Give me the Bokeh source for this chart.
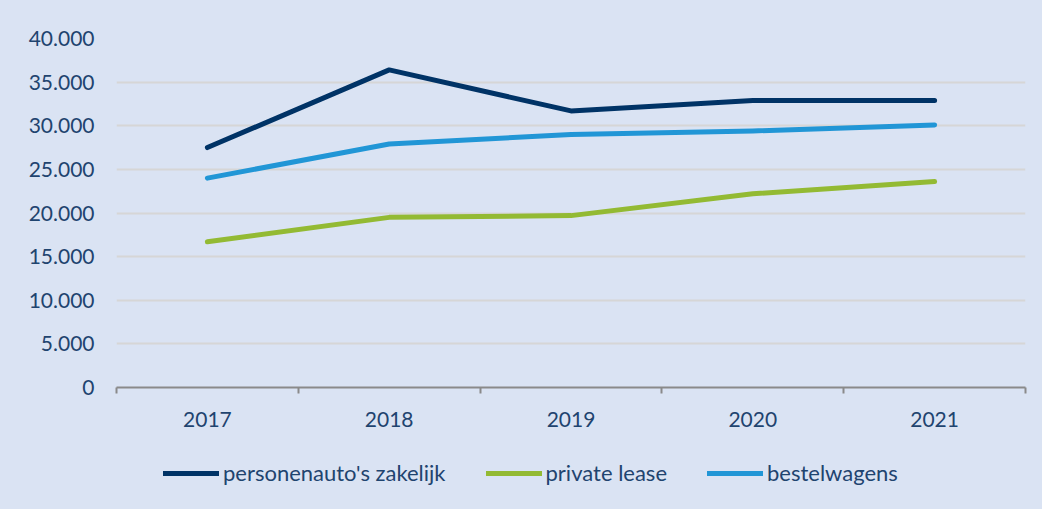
from bokeh.plotting import figure
from bokeh.layouts import column
from bokeh.models import Range1d, FixedTicker, Legend, LegendItem
from bokeh.embed import file_html
from bokeh.resources import INLINE

years = ["2017", "2018", "2019", "2020", "2021"]
zakelijk = [27500, 36400, 31700, 32900, 32900]
private_lease = [16700, 19500, 19700, 22200, 23600]
bestelwagens = [24000, 27900, 29000, 29400, 30100]
series_names = ["personenauto's zakelijk", "private lease", "bestelwagens"]
y_ticks = [0, 5000, 10000, 15000, 20000, 25000, 30000, 35000, 40000]
y_tick_labels = ["0", "5.000", "10.000", "15.000", "20.000", "25.000", "30.000", "35.000", "40.000"]

BG = "#dae3f3"
TXT = "#1f446f"
FONT = "Lato"
colors = ["#003366", "#93ba33", "#2196d6"]
series = [zakelijk, private_lease, bestelwagens]

xs = list(range(len(years)))

p = figure(width=1042, height=445, output_backend="svg", toolbar_location=None,
           x_range=Range1d(-0.5, len(years) - 0.5), y_range=Range1d(0, 40000),
           min_border_left=116, min_border_right=17, min_border_top=38, min_border_bottom=58)
p.background_fill_alpha = 0
p.border_fill_color = BG
p.outline_line_color = None

for vals, col in zip(series, colors):
    p.line(xs, vals, line_color=col, line_width=5, line_cap="round", line_join="round")

# x axis
xa = p.xaxis[0]
xa.ticker = FixedTicker(ticks=xs, minor_ticks=[i - 0.5 for i in range(len(years) + 1)])
xa.major_label_overrides = {i: y for i, y in zip(xs, years)}
xa.major_tick_out = 0
xa.major_tick_in = 0
xa.minor_tick_out = 6
xa.minor_tick_in = 0
xa.minor_tick_line_color = "#8a8a8a"
xa.minor_tick_line_width = 2
xa.axis_line_color = "#8a8a8a"
xa.axis_line_width = 2
xa.major_label_standoff = 18
xa.major_label_text_font = FONT
xa.major_label_text_font_size = "21px"
xa.major_label_text_color = TXT

# y axis
ya = p.yaxis[0]
ya.ticker = FixedTicker(ticks=y_ticks)
ya.major_label_overrides = {t: l for t, l in zip(y_ticks, y_tick_labels)}
ya.axis_line_color = None
ya.major_tick_line_color = None
ya.minor_tick_line_color = None
ya.major_tick_out = 0
ya.major_label_standoff = 22
ya.major_label_text_font = FONT
ya.major_label_text_font_size = "21px"
ya.major_label_text_color = TXT

p.xgrid.grid_line_color = None
p.ygrid.grid_line_color = "#d6d6d6"
p.ygrid.grid_line_width = 2

# legend strip below the chart (its lines lie outside its visible range)
q = figure(width=1042, height=64, output_backend="svg", toolbar_location=None,
           x_range=Range1d(-0.5, len(years) - 0.5), y_range=Range1d(100000, 200000),
           x_axis_location=None, y_axis_location=None,
           min_border_left=0, min_border_right=0, min_border_top=0, min_border_bottom=0)
q.background_fill_alpha = 0
q.border_fill_color = BG
q.outline_line_color = None
q.grid.grid_line_color = None
leg_renderers = [q.line(xs, vals, line_color=col, line_width=5, line_cap="round")
                 for vals, col in zip(series, colors)]

legend = Legend(items=[LegendItem(label=n, renderers=[r]) for n, r in zip(series_names, leg_renderers)],
                orientation="horizontal", location=(47, 23),
                background_fill_alpha=0, border_line_color=None,
                glyph_width=56, glyph_height=20, label_standoff=4, spacing=40,
                padding=0, margin=0,
                label_text_font=FONT, label_text_font_size="22px", label_text_color=TXT)
q.add_layout(legend, "center")

layout = column(p, q, spacing=0, styles={"background-color": BG})
open("out.html", "w").write(file_html(layout, INLINE))
